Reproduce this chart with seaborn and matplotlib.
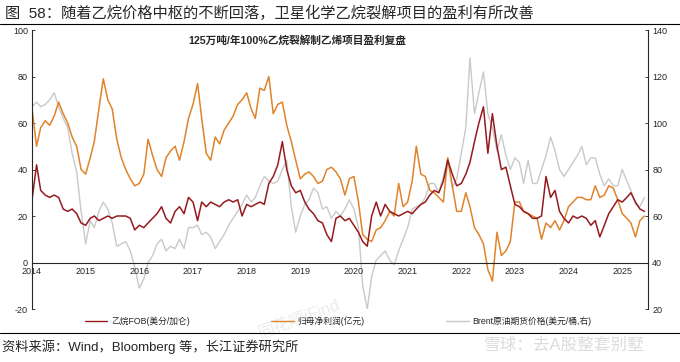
import pandas as pd
import numpy as np
import seaborn as sns
import matplotlib.pyplot as plt
from matplotlib.lines import Line2D

# monthly readings, Jan 2014 .. Jun 2025
dates = pd.date_range("2014-01-01", "2025-06-01", freq="MS")

ethane_fob = [
    27, 42, 31, 29, 28, 29, 28, 23, 22, 23, 21, 17,   # 2014
    16, 19, 20, 18, 19, 20, 19, 20, 20, 20, 19, 14,   # 2015
    16, 15, 17, 19, 21, 24, 19, 17, 22, 24, 21, 28,   # 2016
    26, 18, 26, 24, 26, 25, 24, 26, 27, 26, 27, 20,   # 2017
    25, 24, 25, 26, 25, 34, 37, 42, 52, 40, 33, 30,   # 2018
    31, 26, 23, 21, 18, 17, 12, 9, 19, 20, 18, 19,    # 2019
    16, 13, 9, 7, 20, 26, 20, 25, 22, 21, 20, 21,     # 2020
    22, 21, 23, 25, 26, 29, 31, 30, 35, 44, 38, 33,   # 2021
    34, 38, 43, 52, 60, 67, 47, 64, 50, 40, 41, 33,   # 2022
    25, 24, 22, 21, 19, 19, 20, 37, 28, 31, 22, 19,   # 2023
    17, 20, 19, 20, 19, 16, 18, 11, 16, 21, 24, 27,   # 2024
    26, 28, 30, 26, 23, 22,                           # 2025
]

net_profit = [
    66, 50, 58, 61, 59, 63, 69, 64, 60, 54, 50, 40,   # 2014
    38, 45, 52, 66, 79, 70, 66, 53, 45, 40, 36, 33,   # 2015
    34, 38, 53, 46, 40, 37, 45, 48, 50, 44, 52, 62,   # 2016
    68, 77, 62, 47, 44, 54, 51, 57, 60, 63, 68, 70,   # 2017
    73, 66, 62, 75, 74, 80, 64, 68, 69, 59, 52, 44,   # 2018
    36, 38, 39, 37, 34, 35, 40, 41, 39, 36, 29, 36,   # 2019
    37, 26, 12, 10, 9, 14, 15, 18, 22, 20, 34, 24,    # 2020
    26, 35, 50, 38, 37, 31, 30, 28, 26, 45, 33, 22,   # 2021
    22, 30, 24, 15, 12, 8, -3, -8, 13, 3, 5, 9,       # 2022
    26, 26, 22, 21, 20, 19, 10, 17, 15, 18, 14, 18,   # 2023
    24, 26, 28, 28, 27, 27, 33, 28, 29, 33, 32, 27,   # 2024
    21, 19, 17, 11, 18, 20,                           # 2025
]

brent = [
    107, 109, 107, 108, 110, 113, 107, 102, 98, 87, 79, 62,   # 2014
    48, 58, 55, 62, 66, 63, 57, 47, 48, 49, 45, 38,           # 2015
    29, 33, 40, 43, 48, 50, 45, 47, 46, 50, 46, 55,           # 2016
    55, 56, 52, 53, 51, 46, 49, 52, 56, 59, 62, 65,           # 2017
    69, 66, 68, 73, 77, 75, 74, 75, 80, 84, 64, 53,           # 2018
    60, 65, 67, 72, 70, 63, 64, 59, 62, 60, 63, 67,           # 2019
    63, 55, 30, 20, 34, 41, 43, 45, 41, 39, 45, 50,           # 2020
    55, 63, 64, 65, 68, 74, 74, 70, 77, 85, 72, 76,           # 2021
    87, 98, 128, 104, 113, 122, 104, 98, 88, 95, 86, 80,      # 2022
    85, 83, 74, 84, 74, 74, 80, 86, 94, 88, 80, 77,           # 2023
    80, 83, 86, 90, 82, 85, 85, 78, 73, 76, 73, 73,           # 2024
    80, 75, 71, 65, 64, 68,                                   # 2025
]

year_labels = [str(y) for y in range(2014, 2026)]
left_ticks = [-20, 0, 20, 40, 60, 80, 100]
right_ticks = [20, 40, 60, 80, 100, 120, 140]

labels = ["乙烷FOB(美分/加仑)", "归母净利润(亿元)", "Brent原油期货价格(美元/桶,右)"]
colors = ["#961a1d", "#e0832b", "#c9c9c9"]

df = pd.DataFrame({"date": dates, "ethane": ethane_fob, "profit": net_profit, "brent": brent})

sns.set_style("white")
plt.rcParams["font.family"] = ["Liberation Sans", "Noto Sans CJK SC", "DejaVu Sans"]
plt.rcParams["axes.unicode_minus"] = False

fig = plt.figure(figsize=(6.8, 3.62), dpi=100)
ax = fig.add_axes([0.0471, 0.1464, 0.9058, 0.7707])
ax2 = ax.twinx()

sns.lineplot(data=df, x="date", y="brent", ax=ax2, color=colors[2], lw=1.0)
sns.lineplot(data=df, x="date", y="profit", ax=ax, color=colors[1], lw=1.1)
sns.lineplot(data=df, x="date", y="ethane", ax=ax, color=colors[0], lw=1.1)
ax.set_zorder(ax2.get_zorder() + 1)
ax.patch.set_visible(False)

ax.set_ylim(-20, 100)
ax2.set_ylim(20, 140)
ax.set_yticks(left_ticks)
ax2.set_yticks(right_ticks)
ax.set_xlim(pd.Timestamp("2014-01-01"), pd.Timestamp("2025-06-25"))
ax.set_xticks(pd.to_datetime([f"{y}-01-01" for y in year_labels]))
ax.set_xticklabels(year_labels)
ax.set_xlabel("")
ax.set_ylabel("")
ax2.set_ylabel("")

for a in (ax, ax2):
    a.spines["top"].set_visible(False)
    a.tick_params(direction="in", length=2.5, width=0.6, labelsize=6.5, pad=3)
    for s in a.spines.values():
        s.set_linewidth(0.8)
ax2.spines["bottom"].set_visible(False)
ax2.spines["left"].set_visible(False)
ax.spines["right"].set_visible(False)
ax.spines["bottom"].set_position(("data", 0))

ax.text(0.43, 0.964, "125万吨/年100%乙烷裂解制乙烯项目盈利复盘", transform=ax.transAxes,
        ha="center", va="center", fontsize=7.7, fontweight="bold")

handles = [Line2D([], [], color=c, lw=1.0) for c in colors]
fig.legend(handles, labels, loc="center", bbox_to_anchor=(0.497, 0.113), ncol=3,
           frameon=False, fontsize=6.3, handlelength=2.6, handletextpad=0.4,
           columnspacing=9.3)

fig.text(0.007, 0.963, "图  58：随着乙烷价格中枢的不断回落，卫星化学乙烷裂解项目的盈利有所改善",
         ha="left", va="center", fontsize=11)
fig.text(0.003, 0.043, "资料来源：Wind，Bloomberg 等，长江证券研究所",
         ha="left", va="center", fontsize=9.5)
fig.add_artist(Line2D([0, 1], [0.934, 0.934], color="black", lw=0.8, transform=fig.transFigure))
fig.add_artist(Line2D([0, 1], [0.081, 0.081], color="black", lw=0.8, transform=fig.transFigure))

# faint watermarks
fig.text(0.44, 0.12, "同花顺iFind", rotation=20, fontsize=12, color="#ececec",
         ha="center", va="center", zorder=0)
fig.text(0.83, 0.045, "雪球：去A股整套别墅", fontsize=12, color="#dcdcdc",
         ha="center", va="center")

fig.savefig("out.png", dpi=100)
plt.close(fig)
